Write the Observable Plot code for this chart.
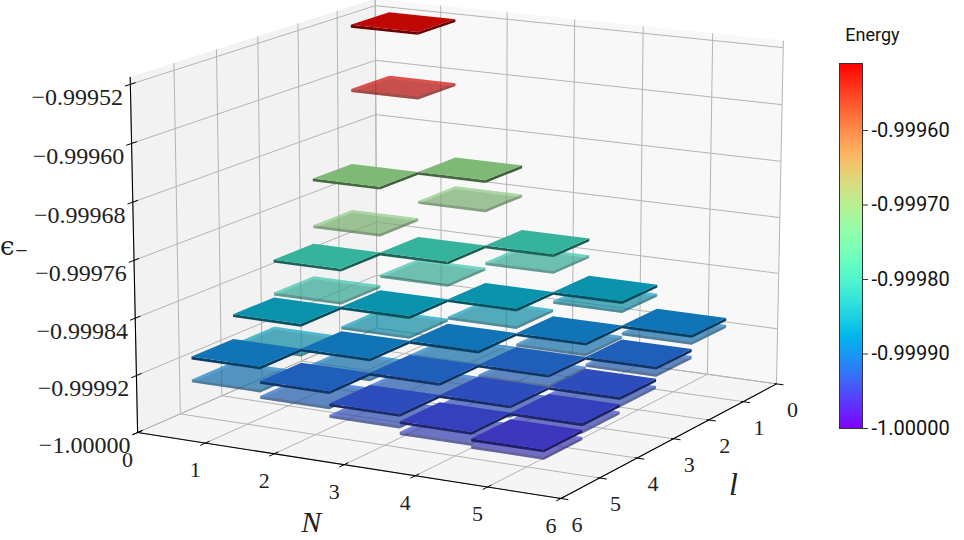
<!DOCTYPE html>
<html><head><meta charset="utf-8">
<script src="https://cdn.jsdelivr.net/npm/d3@7"></script>
<script src="https://cdn.jsdelivr.net/npm/@observablehq/plot@0.6"></script>
<style>html,body{margin:0;background:#fff}#c{position:relative;width:964px;height:540px;overflow:hidden}
#c svg{position:absolute;top:0;background:transparent}</style></head>
<body><div id="c"></div>
<script>
const Ns=[1,2,3,4,5];
const ls=[1,2,3,4,5];
const upper=[ // rows l=1..5, columns N=1..5
 [-0.999516,-0.999716,-0.99981,-0.999864,-0.999899],
 [-0.999716,-0.99981,-0.999864,-0.999899,-0.999919],
 [-0.99981,-0.999864,-0.999899,-0.999919,-0.999936],
 [-0.999864,-0.999899,-0.999919,-0.999936,-0.999946],
 [-0.999899,-0.999919,-0.999936,-0.999946,-0.999955]];
const lower=[
 [-0.999608,-0.999758,-0.999834,-0.999877,-0.999909],
 [-0.999783,-0.999842,-0.999889,-0.999914,-0.999929],
 [-0.999857,-0.999892,-0.999919,-0.999933,-0.999946],
 [-0.999906,-0.999927,-0.999936,-0.999949,-0.999956],
 [-0.999931,-0.99994,-0.999952,-0.999961,-0.999965]];
const zTicks=[-1,-0.99992,-0.99984,-0.99976,-0.99968,-0.9996,-0.99952];
const zTickLabels=["−1.00000","−0.99992","−0.99984","−0.99976","−0.99968","−0.99960","−0.99952"];
const gridTicks=[0,1,2,3,4,5,6];
const cbTicks=[-1,-0.9999,-0.9998,-0.9997,-0.9996];
const zMin=-1,zMax=-0.99951;

// mplot3d-like camera
const rad=Math.PI/180,elev=15*rad,azim=-61*rad,dist=10,zs=0.855;
const n=[Math.cos(elev)*Math.cos(azim),Math.cos(elev)*Math.sin(azim),Math.sin(elev)];
const hyp=Math.hypot(n[0],n[1]);
const u=[-n[1]/hyp,n[0]/hyp,0];
const v=[n[1]*u[2]-n[2]*u[1],n[2]*u[0]-n[0]*u[2],n[0]*u[1]-n[1]*u[0]];
const dot=(a,b)=>a[0]*b[0]+a[1]*b[1]+a[2]*b[2];
function cam(N,l,e){return [N/6-.5,.5-l/6,((e-zMin)/(zMax-zMin)-.5)*zs];}
function project(N,l,e){const d=cam(N,l,e),w=dist-dot(d,n);return {x:dot(d,u)/w,y:dot(d,v)/w};}
const kx=4750,x0=462.5,ky=4230,y0=234.5;

const color=Plot.scale({color:{type:"linear",domain:[zMin,zMax],
  interpolate:t=>`rgb(${Math.round(255*Math.min(1,Math.abs(2*t-.5)))},${Math.round(255*Math.sin(Math.PI*t))},${Math.round(255*Math.cos(Math.PI*t/2))})`}});
function shade(c,f){const r=d3.rgb(c);return `rgb(${r.r*f},${r.g*f},${r.b*f})`;}

let fid=0;
function poly(pts,fill){const id=fid++;return pts.map(p=>({...project(...p),id,fill}));}
const panes=[
 ...poly([[0,6,zMin],[0,0,zMin],[0,0,zMax],[0,6,zMax]],"#f2f2f2"),
 ...poly([[0,0,zMin],[6,0,zMin],[6,0,zMax],[0,0,zMax]],"#f8f8f8"),
 ...poly([[0,6,zMin],[6,6,zMin],[6,0,zMin],[0,0,zMin]],"#f5f5f5")];
const seg=(a,b)=>{const p=project(...a),q=project(...b);return {x1:p.x,y1:p.y,x2:q.x,y2:q.y};};
const grid=[
 ...gridTicks.flatMap(t=>[seg([t,6,zMin],[t,0,zMin]),seg([t,0,zMin],[t,0,zMax])]),
 ...gridTicks.flatMap(t=>[seg([0,t,zMin],[6,t,zMin]),seg([0,t,zMin],[0,t,zMax])]),
 ...zTicks.flatMap(z=>[seg([0,6,z],[0,0,z]),seg([0,0,z],[6,0,z])])];
const spines=[seg([0,6,zMin],[0,6,zMax]),seg([0,6,zMin],[6,6,zMin]),seg([6,6,zMin],[6,0,zMin])];
const ticks=[
 ...zTicks.map(z=>seg([0,6.12,z],[0,5.88,z])),
 ...gridTicks.map(t=>seg([t,6.12,zMin],[t,5.9,zMin])),
 ...gridTicks.map(t=>seg([5.97,t,zMin],[6.1,t,zMin]))];

const hw=0.5,thick=4e-6;
function plate(N,l,e,ce,allFaces){
 const a=N-hw,b=N+hw,c=l-hw,d=l+hw,e0=e-thick,col=color.apply(ce);
 const hidden=allFaces?[
  ...poly([[a,c,e0],[b,c,e0],[b,d,e0],[a,d,e0]],shade(col,.6)),
  ...poly([[a,c,e],[b,c,e],[b,c,e0],[a,c,e0]],shade(col,.95)),
  ...poly([[a,c,e],[a,d,e],[a,d,e0],[a,c,e0]],shade(col,.95))]:[];
 return [...hidden,
  ...poly([[b,c,e],[b,d,e],[b,d,e0],[b,c,e0]],shade(col,.38)),
  ...poly([[a,d,e],[b,d,e],[b,d,e0],[a,d,e0]],shade(col,.42)),
  ...poly([[a,c,e],[b,c,e],[b,d,e],[a,d,e]],shade(col,.75))];
}
function depth(N,l,e){return dot(cam(N,l,e),n);}
function plates(src,allFaces){
 const cells=[];
 ls.forEach((l,i)=>Ns.forEach((N,j)=>cells.push({N,l,e:src[i][j],ce:upper[i][j]})));
 cells.sort((p,q)=>depth(p.N,p.l,p.e)-depth(q.N,q.l,q.e));
 return cells.flatMap(p=>plate(p.N,p.l,p.e,p.ce,allFaces));
}
const faint=plates(lower,true),solid=plates(upper,false);

const face=(rows,o={})=>Plot.line(rows,{x:"x",y:"y",z:"id",fill:"fill",stroke:null,...o});
const links=(rows,o)=>Plot.link(rows,{x1:"x1",y1:"y1",x2:"x2",y2:"y2",...o});
const serif="Liberation Serif";
const lab=(rows,o)=>Plot.text(rows,{x:"x",y:"y",text:"t",fontFamily:serif,fontSize:24,fill:"#222",...o});

const chart=Plot.plot({
 width:964,height:540,margin:0,
 x:{axis:null,domain:[-x0/kx,(964-x0)/kx],range:[0,964]},
 y:{axis:null,domain:[y0/ky,(y0-540)/ky],range:[0,540]},
 color:{type:"identity"},
 marks:[
  face(panes),
  links(grid,{stroke:"#b4b4b4",strokeWidth:1}),
  face(faint,{fillOpacity:.45}),
  face(solid),
  links(spines,{stroke:"#000",strokeWidth:1.1}),
  links(ticks,{stroke:"#000",strokeWidth:1}),
  lab(zTicks.map((z,i)=>({...project(0,6,z),t:zTickLabels[i]})),{dx:-53,dy:13}),
  lab(gridTicks.map(t=>({...project(t,6,zMin),t:String(t)})),{dx:-10,dy:27,fontSize:22}),
  lab(gridTicks.map(t=>({...project(6,t,zMin),t:String(t)})),{dx:16,dy:26,fontSize:22}),
  lab([{...project(3,6,zMin),t:"N"}],{dx:-33,dy:58,fontSize:30,fontStyle:"italic"}),
  lab([{...project(6,3,zMin),t:"l"}],{dx:60,dy:46,fontSize:32,fontStyle:"italic"}),
  lab([{...project(0,6,-0.99976),t:"ϵ₋"}],{dx:-134,dy:-14,fontSize:26,fontFamily:"DejaVu Serif",textAnchor:"start"})
 ]
});
chart.style.left="0";

const stripValues=d3.range(0,256).map(i=>zMin+(zMax-zMin)*i/256);
const stripStep=(zMax-zMin)/256;
const cb=Plot.plot({
 width:134,height:540,marginLeft:9,marginRight:102,marginTop:63,marginBottom:112,
 x:{axis:null,domain:[0,1]},
 y:{axis:null,domain:[zMin,zMax]},
 color:{type:"identity"},
 marks:[
  Plot.rect(stripValues,{x1:()=>0,x2:()=>1,y1:d=>d,y2:d=>d+stripStep*1.2,fill:d=>color.apply(d+stripStep/2),shapeRendering:"crispEdges"}),
  Plot.frame({stroke:"#333",strokeWidth:1}),
  Plot.axisY({anchor:"right",ticks:cbTicks,tickFormat:d=>d.toFixed(5),tickSize:5,tickPadding:4,
    fontSize:20,fontFamily:"Roboto",label:null,color:"#111",stroke:"#333"}),
  Plot.text(["Energy"],{x:()=>1.43,y:()=>zMax,dy:-28,fontSize:18,fontFamily:"Roboto",fill:"#111"})
 ]
});
cb.style.left="830px";
document.getElementById("c").append(chart,cb);
</script></body></html>
